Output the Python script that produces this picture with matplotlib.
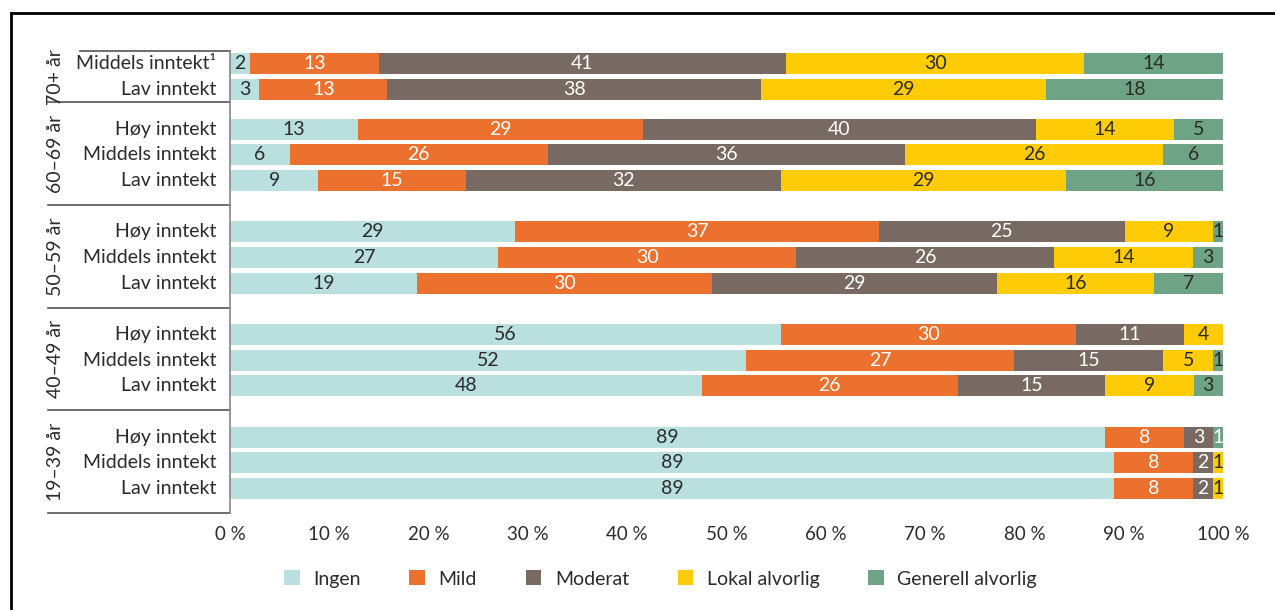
import matplotlib.pyplot as plt
import numpy as np
from matplotlib.patches import Patch
from matplotlib.lines import Line2D

plt.rcParams['font.family'] = ['Lato', 'DejaVu Sans']

groups = ['70+ år', '60–69 år', '50–59 år', '40–49 år', '19–39 år']
group_rows = [
    ['Middels inntekt¹', 'Lav inntekt'],
    ['Høy inntekt', 'Middels inntekt', 'Lav inntekt'],
    ['Høy inntekt', 'Middels inntekt', 'Lav inntekt'],
    ['Høy inntekt', 'Middels inntekt', 'Lav inntekt'],
    ['Høy inntekt', 'Middels inntekt', 'Lav inntekt'],
]
categories = ['Ingen', 'Mild', 'Moderat', 'Lokal alvorlig', 'Generell alvorlig']
colors = ['#b9e0df', '#ec712e', '#786a62', '#fecc07', '#6fa386']
text_colors = ['#2b2b2b', 'white', 'white', '#2b2b2b', '#2b2b2b']

ingen = [2, 3, 13, 6, 9, 29, 27, 19, 56, 52, 48, 89, 89, 89]
mild = [13, 13, 29, 26, 15, 37, 30, 30, 30, 27, 26, 8, 8, 8]
moderat = [41, 38, 40, 36, 32, 25, 26, 29, 11, 15, 15, 3, 2, 2]
lokal = [30, 29, 14, 26, 29, 9, 14, 16, 4, 5, 9, 0, 1, 1]
generell = [14, 18, 5, 6, 16, 1, 3, 7, 0, 1, 3, 1, 0, 0]

data = np.array([ingen, mild, moderat, lokal, generell], dtype=float)
shares = data / data.sum(axis=0) * 100

# y layout in row slots: first group has 2 slots, the others 4
ypos = []
bounds = [0]
start = 0
for i, rows in enumerate(group_rows):
    if i == 0:
        ypos += [start + 0.5 + k for k in range(len(rows))]
        start += 2
    else:
        ypos += [start + 1.05 + k for k in range(len(rows))]
        start += 4
    bounds.append(start)
ypos = np.array(ypos)

fig = plt.figure(figsize=(12.75, 6.1), dpi=100)
ax = fig.add_axes([230 / 1275, 1 - 513 / 610, 993 / 1275, 462 / 610])

left = np.zeros(len(ypos))
for j, cat in enumerate(categories):
    w = shares[j]
    ax.barh(ypos, w, left=left, height=0.82, color=colors[j], label=cat)
    for r, (y, l, v, raw) in enumerate(zip(ypos, left, w, data[j])):
        if raw > 0:
            tc = text_colors[j]
            if j == 4 and r == 11:  # white "1" next to the brown segment
                tc = 'white'
            ax.text(l + v / 2, y, f'{int(raw)}', ha='center', va='center',
                    fontsize=14, color=tc)
    left += w

ax.set_xlim(0, 100)
ax.set_ylim(bounds[-1], 0)
ax.set_xticks(np.arange(0, 101, 10))
ax.set_xticklabels([f'{t} %' for t in range(0, 101, 10)], fontsize=13.5, color='#2b2b2b')
ax.tick_params(axis='x', length=0, pad=9)
ax.set_yticks([])
for s in ['top', 'right', 'bottom']:
    ax.spines[s].set_visible(False)
ax.spines['left'].set_color('#888888')
ax.spines['left'].set_linewidth(1.2)

trans = ax.get_yaxis_transform()
names = [r for rows in group_rows for r in rows]
for y, name in zip(ypos, names):
    ax.text(-0.014, y, name, transform=trans, ha='right', va='center',
            fontsize=14, color='#2b2b2b')

for i, g in enumerate(groups):
    ax.text(-0.176, (bounds[i] + bounds[i + 1]) / 2, g, transform=trans, rotation=90,
            ha='center', va='center', fontsize=14, color='#2b2b2b')

for i, b in enumerate(bounds):
    x0 = -0.151 if i == 0 else -0.1833
    ax.add_line(Line2D([x0, 0], [b, b], transform=trans, color='#555555',
                       lw=1.2, clip_on=False))

# outer frame (top and left)
fig.add_artist(Line2D([11 / 1275, 1], [1 - 13 / 610, 1 - 13 / 610],
                      transform=fig.transFigure, color='black', lw=2))
fig.add_artist(Line2D([11 / 1275, 11 / 1275], [0, 1 - 13 / 610],
                      transform=fig.transFigure, color='black', lw=2))

handles = [Patch(facecolor=c, edgecolor='none') for c in colors]
fig.legend(handles, categories, loc='center', bbox_to_anchor=(0.518, 1 - 579 / 610),
           ncol=5, frameon=False, fontsize=14, handlelength=0.8, handleheight=0.8,
           handletextpad=0.7, columnspacing=2.5, labelcolor='#2b2b2b')

fig.savefig('out.png', dpi=100)
